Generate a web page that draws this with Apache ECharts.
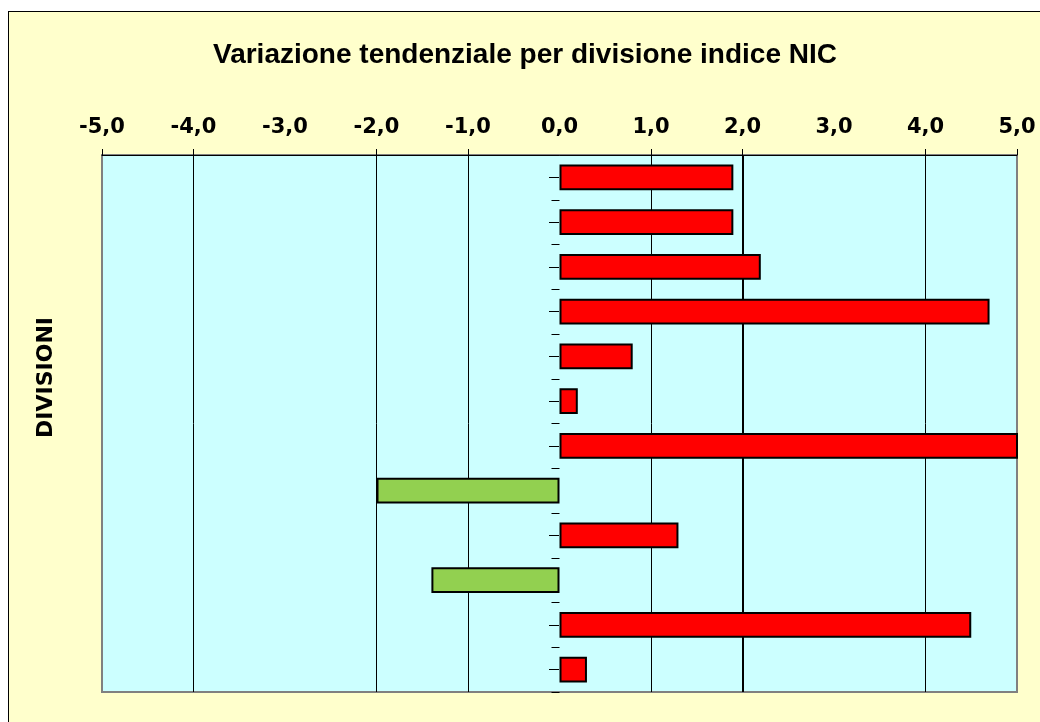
<!DOCTYPE html>
<html>
<head>
<meta charset="utf-8">
<script src="https://cdn.jsdelivr.net/npm/echarts@6/dist/echarts.min.js"></script>
<style>
  html, body { margin: 0; padding: 0; background: #fff; }
  #frame {
    position: absolute; left: 8px; top: 11px;
    width: 1032px; height: 711px;
    border-left: 1px solid #000; border-top: 1px solid #000;
    background: #ffffcc;
  }
  #chart { width: 1032px; height: 711px; }
</style>
</head>
<body>
<div id="frame"><div id="chart"></div></div>
<script>
// divisioni NIC, dall'alto in basso
const divisions = ['01', '02', '03', '04', '05', '06', '07', '08', '09', '10', '11', '12'];
const variation = [1.9, 1.9, 2.2, 4.7, 0.8, 0.2, 5.6, -2.0, 1.3, -1.4, 4.5, 0.3];
const tickValues = [-5, -4, -2, -1, 1, 2, 4, 5];
const gridValues = [-4, -2, -1, 1, 2, 4];

const fmt = v => v.toFixed(1).replace('.', ',');

const chart = echarts.init(document.getElementById('chart'));

chart.setOption({
  animation: false,
  textStyle: { fontFamily: 'Liberation Sans, Arial, sans-serif' },
  title: {
    text: 'Variazione tendenziale per divisione indice NIC',
    left: 'center',
    top: 24,
    textStyle: { fontSize: 28, fontWeight: 'bold', color: '#000' }
  },
  graphic: [{
    type: 'text',
    left: 26,
    top: 305,
    rotation: Math.PI / 2,
    style: { text: 'DIVISIONI', fontSize: 22, fontWeight: 'bold', fill: '#000',
      fontFamily: 'DejaVu Sans, sans-serif' }
  }],
  grid: {
    left: 93, top: 143, width: 915, height: 537,
    show: true, backgroundColor: '#ccffff',
    borderColor: '#808080', borderWidth: 2
  },
  xAxis: {
    type: 'value', position: 'top',
    min: -5, max: 5, interval: 1,
    axisLine: { show: true, lineStyle: { color: '#000', width: 1 } },
    axisTick: { show: true, length: 6, customValues: tickValues, lineStyle: { color: '#000' } },
    axisLabel: { fontSize: 21, fontWeight: 'bold', color: '#000', margin: 17, formatter: fmt,
      fontFamily: 'DejaVu Sans, sans-serif' },
    splitLine: { show: false }
  },
  yAxis: [{
    type: 'category', data: divisions, inverse: true,
    axisLine: { show: false, onZero: true },
    axisTick: { show: true, length: 8, lineStyle: { color: '#000' } },
    axisLabel: { show: false },
    splitLine: { show: false }
  }, {
    type: 'category', data: divisions, inverse: true,
    position: 'left', offset: -457,
    axisLine: { show: false, onZero: false },
    axisTick: { show: true, length: 10, alignWithLabel: true, lineStyle: { color: '#000' } },
    axisLabel: { show: false },
    splitLine: { show: false }
  }],
  series: [{
    type: 'line', data: [], z: 1, silent: true,
    markLine: {
      z: 1,
      symbol: 'none', silent: true, label: { show: false },
      lineStyle: { color: '#000', type: 'solid', width: 1 },
      data: gridValues.map(v => ({ xAxis: v, lineStyle: { width: v === 2 ? 2 : 1 } }))
    }
  }, {
    type: 'bar', z: 3, yAxisIndex: 0,
    barWidth: '58%',
    data: variation.map(v => ({
      value: v,
      itemStyle: { color: v < 0 ? '#92d050' : '#ff0000', borderColor: '#000', borderWidth: 2 }
    }))
  }]
});
</script>
</body>
</html>
